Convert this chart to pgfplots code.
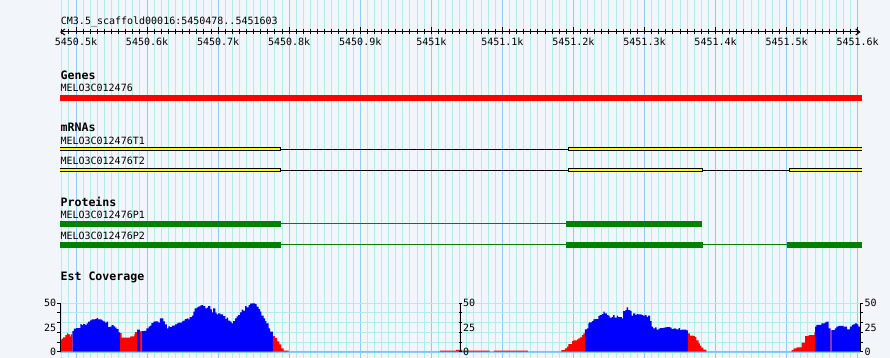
\documentclass[border=0pt]{standalone}
\usepackage{fontspec}
\setmainfont{DejaVu Sans Mono}
\usepackage{pgfplots}
\pgfplotsset{compat=1.18}
\usetikzlibrary{arrows.meta}
\definecolor{bgc}{RGB}{242,245,250}
\definecolor{minorg}{RGB}{175,238,238}
\definecolor{majorg}{RGB}{135,206,250}
\definecolor{gb}{RGB}{0,0,255}
\definecolor{gr}{RGB}{255,0,0}
\definecolor{gg}{RGB}{0,128,0}
\definecolor{gy}{RGB}{255,255,0}
\newcommand\nf{\fontsize{10pt}{12pt}\selectfont}
\newcommand\hf{\fontsize{11.6pt}{13pt}\selectfont\bfseries}

\pgfplotstableread{
x y
478 12.4
480 13.4
482 14.8
485 17.2
487 18.9
489 17.9
492 15.5
493 18
495 0
562 19.3
564 14.5
576 15.5
578 15.8
582 18.3
583 20.3
586 0
590 21
592 0
777 16
780 14
783 10.7
786 7.6
789 3.5
792 1
799 0
1012 1
1035 2
1043 1
1082 0
1088 1
1136 0
1183 1.7
1188 3.4
1191 5.2
1193 7.9
1198 11
1200 11.7
1205 12.7
1207 13.8
1209 14.8
1212 17.2
1214 18.9
1216 0
1361 18.9
1364 16.5
1369 16.2
1371 15.2
1373 11.7
1376 8.6
1378 6.2
1380 4.1
1383 2.1
1387 0
1507 1.7
1510 3.4
1514 4.5
1521 9.3
1526 16.2
1531 17.2
1539 20
1540 0
1562 21
1563 0
}\redcov

\pgfplotstableread{
x y
495 21.3
497 23.8
500 24.4
506 28.6
508 27.5
510 28.6
513 27.5
515 29.3
517 31
520 32.4
522 33.4
527 33.7
529 34.8
531 33.4
536 32.4
538 31.3
541 30
543 31
545 25.5
548 25.8
550 27.5
553 26.2
555 24.8
557 23.4
560 20
562 0
586 22.7
590 0
592 21.3
595 21.6
599 24.1
602 25.8
604 26.9
606 29.6
609 31
611 31.3
616 30
618 34.4
623 31.3
625 28.2
628 24.1
630 26.2
632 25.5
635 26.9
639 28.2
642 29.3
644 30
649 31.3
651 32
653 33.7
656 34.4
658 33.4
660 35.8
663 37.2
665 41.3
667 44.8
670 45.8
672 46.8
675 47.9
677 48.2
679 47.2
682 44.8
684 45.5
686 47.2
689 43.7
691 40.6
693 44.8
696 40.3
698 38.6
700 39.6
703 38.6
707 36.8
710 33.7
712 35.1
714 32
717 31
719 29.3
721 31.7
724 34.4
726 36.5
728 37.9
731 40.6
733 43.4
735 42.4
738 47.2
740 45.8
743 48.2
745 49.6
747 50
752 49.2
754 46.5
757 44
759 41.3
761 37.2
764 34.4
766 31.7
768 29.3
771 24.1
773 20.7
777 0
1216 23.1
1219 24.1
1221 29.3
1222 30.3
1226 31.7
1228 33.4
1230 33.7
1235 36.8
1237 37.9
1240 38.9
1242 41.3
1244 39.6
1247 37.9
1249 37.2
1251 35.1
1254 36.1
1256 37.9
1258 35.1
1261 37.2
1263 35.8
1268 34.4
1270 42
1273 43
1275 45.8
1277 43
1280 42
1282 37.2
1284 39.6
1287 37.9
1289 38.9
1291 38.6
1296 37.9
1298 37.2
1301 37.9
1303 36.1
1305 37.2
1308 31.7
1310 25.8
1312 24.1
1315 25.1
1317 22.7
1320 23.8
1322 24.4
1327 24.8
1329 25.1
1331 25.5
1336 24.8
1338 23.4
1341 24.1
1343 23.8
1345 23.1
1348 24.4
1350 22.4
1352 22.7
1359 22
1361 0
1540 25.9
1542 27.6
1549 29.3
1554 30.3
1556 31
1559 24.1
1562 0
1563 22.4
1568 24.1
1570 25.9
1573 26.6
1580 25.9
1585 23.1
1589 25.9
1592 27.6
1594 28.3
1596 29.3
1599 28.3
1601 25.9
1603 0
}\bluecov

\begin{document}
\begin{tikzpicture}
% ---------- layout axis: x in bp (offset 5450000), y in pixels from top ----------
\begin{axis}[at={(0,0)}, anchor=south west, scale only axis,
  width=890pt, height=358pt,
  xmin=393.05, xmax=1645.5, ymin=0, ymax=358, y dir=reverse,
  axis background/.style={fill=bgc},
  axis line style={draw=none},
  xtick={500,600,...,1600}, minor xtick={480,490,...,1600},
  ytick=\empty, xticklabels={},
  major tick length=0pt, minor tick length=0pt,
  xmajorgrids, xminorgrids,
  major grid style={majorg, line width=1pt},
  minor grid style={minorg, line width=1pt},
  clip=false]

\node[anchor=base west, inner sep=0, font=\nf] at (axis cs:478.5,25) {CM3.5\_scaffold00016:5450478..5451603};

% ruler
\draw[line width=1pt, {Straight Barb[length=4pt,width=6pt]}-{Straight Barb[length=4pt,width=6pt]}] (axis cs:477.5,32) -- (axis cs:1604,32);
\pgfplotsinvokeforeach{480,490,...,1600}{\draw[line width=1pt] (axis cs:#1,29.5) -- (axis cs:#1,34.5);}
\pgfplotsinvokeforeach{500,600,...,1600}{\draw[line width=1pt] (axis cs:#1,27.5) -- (axis cs:#1,34.5);}
\node[anchor=base, inner sep=0, font=\nf] at (axis cs:500,46) {5450.5k};
\node[anchor=base, inner sep=0, font=\nf] at (axis cs:600,46) {5450.6k};
\node[anchor=base, inner sep=0, font=\nf] at (axis cs:700,46) {5450.7k};
\node[anchor=base, inner sep=0, font=\nf] at (axis cs:800,46) {5450.8k};
\node[anchor=base, inner sep=0, font=\nf] at (axis cs:900,46) {5450.9k};
\node[anchor=base, inner sep=0, font=\nf] at (axis cs:1000,46) {5451k};
\node[anchor=base, inner sep=0, font=\nf] at (axis cs:1100,46) {5451.1k};
\node[anchor=base, inner sep=0, font=\nf] at (axis cs:1200,46) {5451.2k};
\node[anchor=base, inner sep=0, font=\nf] at (axis cs:1300,46) {5451.3k};
\node[anchor=base, inner sep=0, font=\nf] at (axis cs:1400,46) {5451.4k};
\node[anchor=base, inner sep=0, font=\nf] at (axis cs:1500,46) {5451.5k};
\node[anchor=base, inner sep=0, font=\nf] at (axis cs:1600,46) {5451.6k};

% track labels
\node[anchor=base west, inner sep=0, font=\hf] at (axis cs:478,80) {Genes};
\node[anchor=base west, inner sep=0, font=\nf] at (axis cs:478,92) {MELO3C012476};
\node[anchor=base west, inner sep=0, font=\hf] at (axis cs:478,132) {mRNAs};
\node[anchor=base west, inner sep=0, font=\nf] at (axis cs:478,144.3) {MELO3C012476T1};
\node[anchor=base west, inner sep=0, font=\nf] at (axis cs:478,164.3) {MELO3C012476T2};
\node[anchor=base west, inner sep=0, font=\hf] at (axis cs:478,206) {Proteins};
\node[anchor=base west, inner sep=0, font=\nf] at (axis cs:478,218) {MELO3C012476P1};
\node[anchor=base west, inner sep=0, font=\nf] at (axis cs:478,239) {MELO3C012476P2};
\node[anchor=base west, inner sep=0, font=\hf] at (axis cs:478,280) {Est Coverage};

% gene
\addplot[fill=gr, draw=none] coordinates {(478,95) (1606,95) (1606,100.8) (478,100.8)} -- cycle;

% mRNA T1
\addplot[draw=black, line width=1pt] coordinates {(788,149.3) (1193,149.3)};
\addplot[fill=gy, draw=black, line width=1pt] coordinates {(478,147.8) (788,147.8) (788,150.8) (478,150.8)};
\addplot[fill=gy, draw=black, line width=1pt] coordinates {(1606,150.8) (1193,150.8) (1193,147.8) (1606,147.8)};
% mRNA T2
\addplot[draw=black, line width=1pt] coordinates {(788,170) (1193,170)};
\addplot[draw=black, line width=1pt] coordinates {(1382,170) (1504,170)};
\addplot[fill=gy, draw=black, line width=1pt] coordinates {(478,168.5) (788,168.5) (788,171.5) (478,171.5)};
\addplot[fill=gy, draw=black, line width=1pt] coordinates {(1193,168.5) (1382,168.5) (1382,171.5) (1193,171.5)} -- cycle;
\addplot[fill=gy, draw=black, line width=1pt] coordinates {(1606,171.5) (1504,171.5) (1504,168.5) (1606,168.5)};

% proteins P1
\addplot[draw=gg, line width=1pt] coordinates {(788,223.8) (1190,223.8)};
\addplot[fill=gg, draw=none] coordinates {(478,221) (788,221) (788,226.7) (478,226.7)} -- cycle;
\addplot[fill=gg, draw=none] coordinates {(1190,221) (1381,221) (1381,226.7) (1190,226.7)} -- cycle;
% proteins P2
\addplot[draw=gg, line width=1pt] coordinates {(788,244.8) (1190,244.8)};
\addplot[draw=gg, line width=1pt] coordinates {(1382,244.8) (1501,244.8)};
\addplot[fill=gg, draw=none] coordinates {(478,242) (788,242) (788,247.7) (478,247.7)} -- cycle;
\addplot[fill=gg, draw=none] coordinates {(1190,242) (1382,242) (1382,247.7) (1190,247.7)} -- cycle;
\addplot[fill=gg, draw=none] coordinates {(1501,242) (1606,242) (1606,247.7) (1501,247.7)} -- cycle;
\end{axis}

% ---------- coverage axis ----------
\begin{axis}[at={(60.4pt,6.3pt)}, anchor=south west, scale only axis,
  width=799.4pt, height=48.4pt,
  xmin=478, xmax=1603, ymin=0, ymax=50,
  axis line style={draw=none},
  xtick=\empty, ytick={0,10,...,50}, yticklabels={},
  major tick length=0pt,
  ymajorgrids, major grid style={minorg, line width=1pt},
  clip=false]
\draw[majorg, line width=1pt] (axis cs:478,-0.5) -- (axis cs:1603,-0.5);
\addplot[const plot, fill=gb, draw=none] table[x=x, y=y] {\bluecov} \closedcycle;
\addplot[const plot, fill=gr, draw=none] table[x=x, y=y] {\redcov} \closedcycle;

% left scale
\draw[line width=1pt] (axis cs:478,-0.5) -- (axis cs:478,50.5);
\pgfplotsinvokeforeach{0,10,20,30,40,50}{\draw[line width=1pt] ([xshift=-3.5pt]axis cs:478,#1) -- (axis cs:478,#1);}
\node[anchor=east, inner sep=0, font=\nf] at ([xshift=-4pt]axis cs:478,50) {50};
\node[anchor=east, inner sep=0, font=\nf] at ([xshift=-4pt]axis cs:478,25) {25};
\node[anchor=east, inner sep=0, font=\nf] at ([xshift=-4pt]axis cs:478,0) {0};
% middle scale
\draw[line width=1pt] (axis cs:1041,-0.5) -- (axis cs:1041,50.5);
\pgfplotsinvokeforeach{0,10,20,30,40,50}{\draw[line width=1pt] ([xshift=-1.5pt]axis cs:1041,#1) -- ([xshift=1.5pt]axis cs:1041,#1);}
\node[anchor=west, inner sep=0, font=\nf] at ([xshift=2.5pt]axis cs:1041,50) {50};
\node[anchor=west, inner sep=0, font=\nf] at ([xshift=2.5pt]axis cs:1041,25) {25};
\node[anchor=west, inner sep=0, font=\nf] at ([xshift=2.5pt]axis cs:1041,0) {0};
% right scale
\draw[line width=1pt] (axis cs:1604.5,-0.5) -- (axis cs:1604.5,50.5);
\pgfplotsinvokeforeach{0,10,20,30,40,50}{\draw[line width=1pt] (axis cs:1604.5,#1) -- ([xshift=2.5pt]axis cs:1604.5,#1);}
\node[anchor=west, inner sep=0, font=\nf] at ([xshift=3.5pt]axis cs:1604.5,50) {50};
\node[anchor=west, inner sep=0, font=\nf] at ([xshift=3.5pt]axis cs:1604.5,25) {25};
\node[anchor=west, inner sep=0, font=\nf] at ([xshift=3.5pt]axis cs:1604.5,0) {0};
\end{axis}
\pgfresetboundingbox
\path (0,0) rectangle (890pt,358pt);
\end{tikzpicture}
\end{document}
